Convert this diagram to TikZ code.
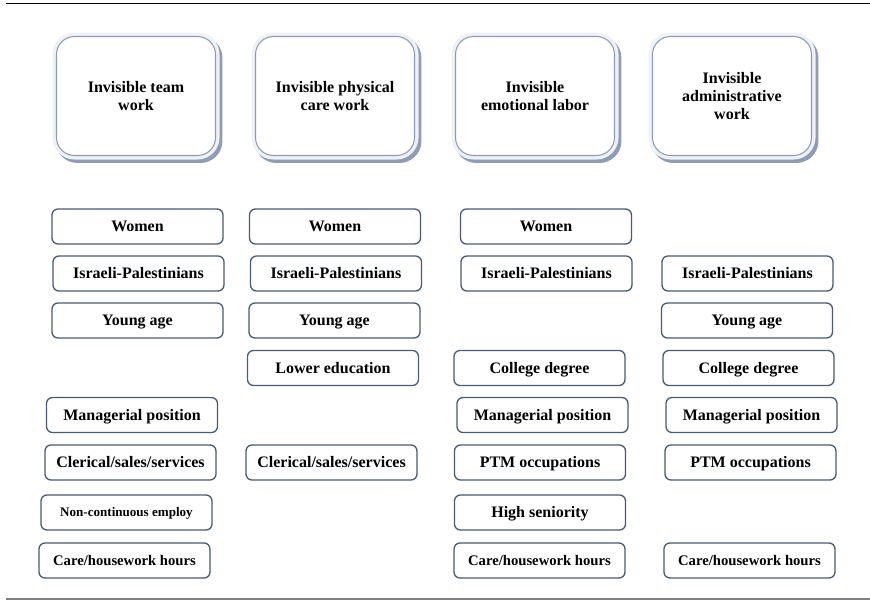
\documentclass[tikz,border=0pt]{standalone}
\usepackage{fontspec}
\setmainfont{Liberation Serif}
\usepackage{tikz}
\usetikzlibrary{positioning}

\definecolor{framelight}{HTML}{EEF1F5}
\definecolor{frameshade}{HTML}{8E9CB6}
\definecolor{boxline}{HTML}{4A5A72}
\definecolor{ruleGray}{HTML}{808080}

\tikzset{
	headbox/.style={rounded corners=13.5pt, minimum width=119.25pt, minimum height=89.25pt,
		align=center, inner sep=2pt, fill=white, draw=frameshade, line width=0.8pt,
		font=\fontsize{12}{13.8}\selectfont\bfseries,
		preaction={draw=frameshade, line width=6pt, transform canvas={shift={(2.2pt,-2.6pt)}}},
		preaction={draw=framelight, line width=6pt}},
	factor/.style={rounded corners=4.5pt, minimum width=128.25pt, minimum height=26.25pt,
		draw=boxline, line width=1pt, fill=white, inner sep=1pt,
		text height=8pt, text depth=0pt,
		font=\fontsize{12}{14}\selectfont\bfseries},
	smallfactor/.style={factor, text height=7.3pt, font=\fontsize{11}{13}\selectfont\bfseries},
	tinyfactor/.style={factor, text height=6.5pt, font=\fontsize{9.8}{12}\selectfont\bfseries}
}

\begin{document}
\begin{tikzpicture}[x=0.75pt, y=-0.75pt]
	\useasboundingbox (0,0) rectangle (870,600);

	% Rules top and bottom
	\draw[line width=1.2pt] (6,3.5) -- (870,3.5);
	\draw[ruleGray, line width=0.9pt] (6,599) -- (870,599);

	% Header boxes
	\node[headbox] (hTeam) at (136,96) {Invisible team\\work};
	\node[headbox] (hPhys) at (335,96) {Invisible physical\\care work};
	\node[headbox] (hEmo) at (535,96) {Invisible\\emotional labor};
	\node[headbox] (hAdmin) at (732,96) {Invisible\\administrative\\work};

	% Team work
	\node[factor] (tWomen) at (137.5,226.5) {Women};
	\node[factor] (tIsrael) at (138.5,273.5) {Israeli-Palestinians};
	\node[factor] (tYoung) at (137.5,320.5) {Young age};
	\node[factor] (tManager) at (132,415) {Managerial position};
	\node[factor] (tClerical) at (130.5,462.5) {Clerical/sales/services};
	\node[tinyfactor] (tNoncont) at (126.5,512.5) {Non-continuous employ};
	\node[smallfactor] (tCare) at (124.5,560.5) {Care/housework hours};

	% Physical care work
	\node[factor] (pWomen) at (335,226.5) {Women};
	\node[factor] (pIsrael) at (336,273.5) {Israeli-Palestinians};
	\node[factor] (pYoung) at (334.5,320.5) {Young age};
	\node[factor] (pLowEdu) at (333,368) {Lower education};
	\node[factor] (pClerical) at (331.5,462.5) {Clerical/sales/services};

	% Emotional labor
	\node[factor] (eWomen) at (546,226.5) {Women};
	\node[factor] (eIsrael) at (546.5,273.5) {Israeli-Palestinians};
	\node[factor] (eCollege) at (539.5,368) {College degree};
	\node[factor] (eManager) at (542.5,415) {Managerial position};
	\node[factor] (ePTM) at (540,462.5) {PTM occupations};
	\node[factor] (eSenior) at (540,512.5) {High seniority};
	\node[smallfactor] (eCare) at (539.5,560.5) {Care/housework hours};

	% Administrative work
	\node[factor] (aIsrael) at (747.5,273.5) {Israeli-Palestinians};
	\node[factor] (aYoung) at (747,320.5) {Young age};
	\node[factor] (aCollege) at (748.5,368) {College degree};
	\node[factor] (aManager) at (751.5,415) {Managerial position};
	\node[factor] (aPTM) at (750.5,462.5) {PTM occupations};
	\node[smallfactor] (aCare) at (749.5,560.5) {Care/housework hours};

\end{tikzpicture}
\end{document}
